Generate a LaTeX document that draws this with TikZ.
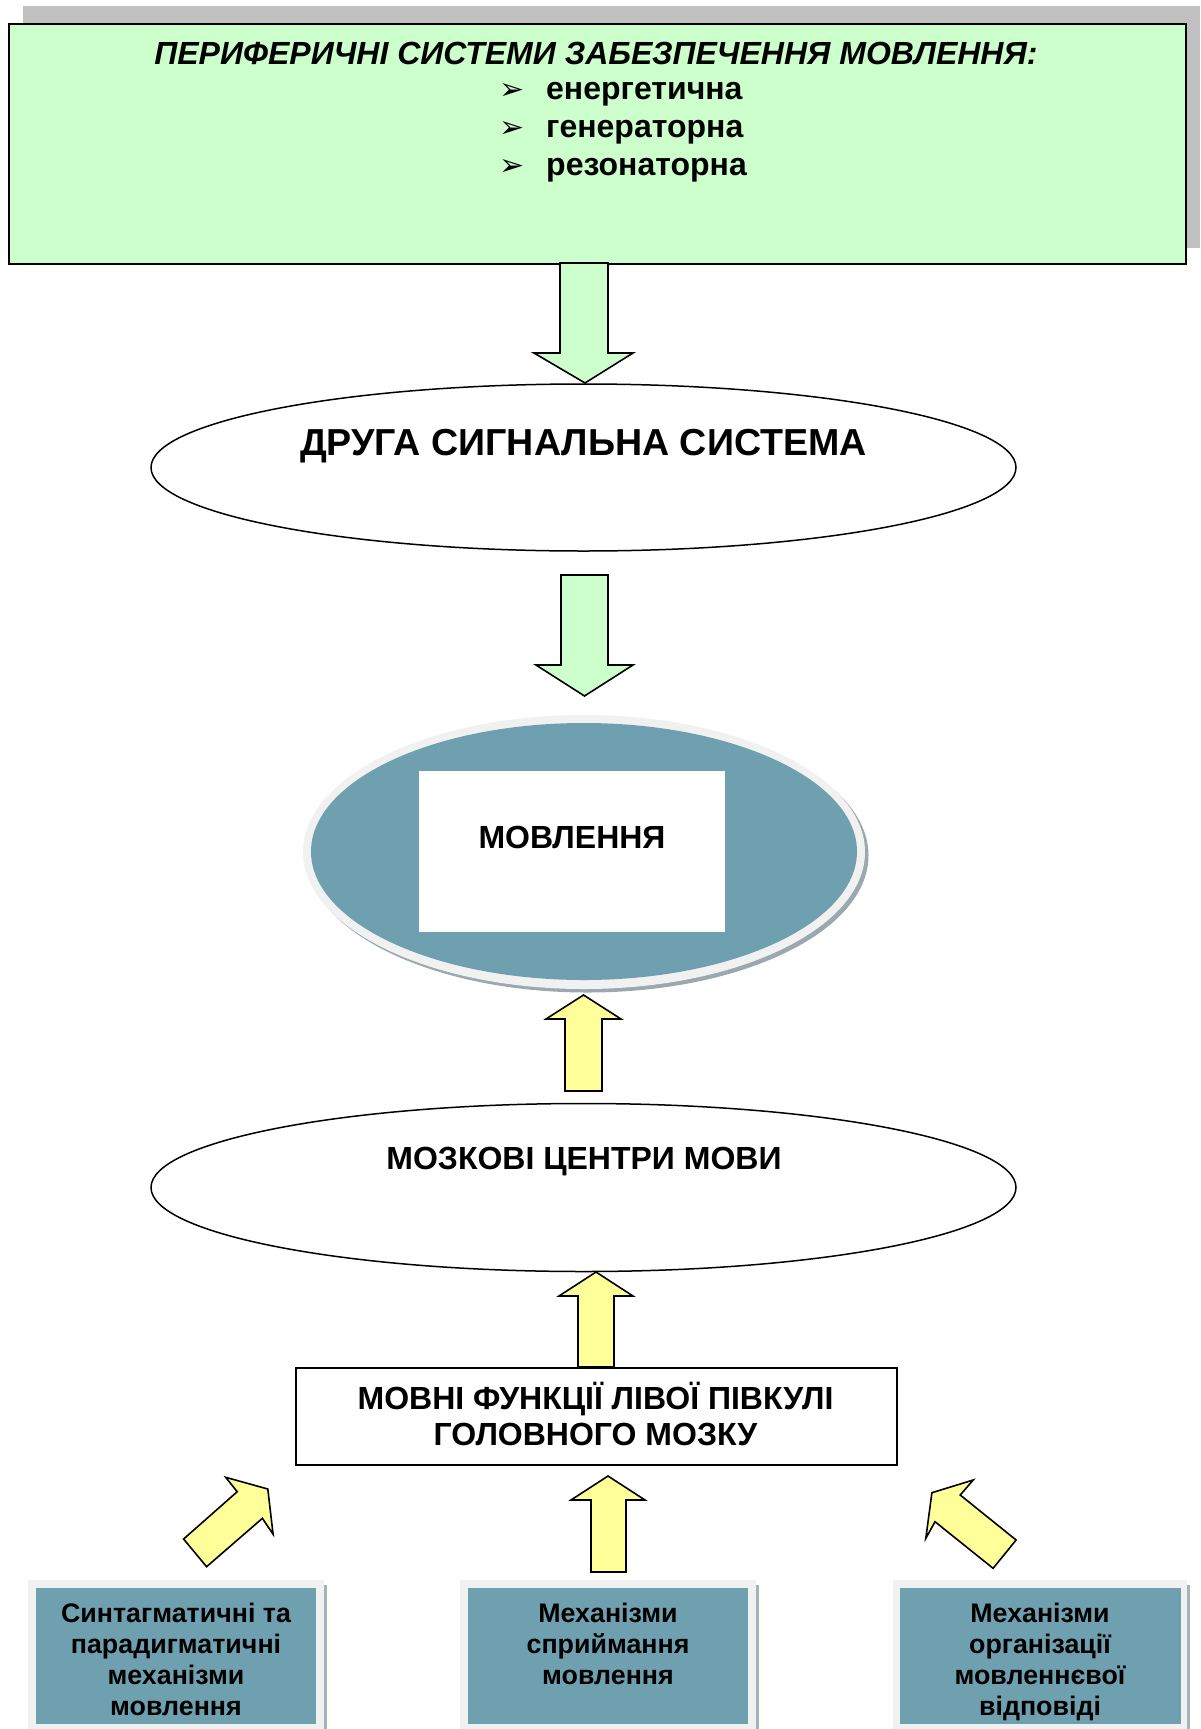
\documentclass[tikz,border=0pt]{standalone}
\usepackage{fontspec}
\setmainfont{Liberation Sans}
\newfontfamily\dejavu{DejaVu Sans}
\usetikzlibrary{shapes.geometric}
\definecolor{pgreen}{HTML}{CCFFCC}
\definecolor{pyellow}{HTML}{FFFF99}
\definecolor{pteal}{HTML}{6FA0B0}
\definecolor{pshadow}{HTML}{C0C0C0}
\definecolor{prim}{HTML}{F1F1F1}
\definecolor{pellshadow}{HTML}{9AA8B0}
\definecolor{pboxshadow}{HTML}{A8B2BA}
\tikzset{
  bigtxt/.style={anchor=base, inner sep=0pt, font=\bfseries\fontsize{32}{38}\selectfont},
  hugetxt/.style={anchor=base, inner sep=0pt, font=\bfseries\fontsize{37.6}{43}\selectfont},
  smalltxt/.style={anchor=base, inner sep=0pt, font=\bfseries\fontsize{26.8}{31}\selectfont},
  bullettxt/.style={anchor=base west, inner sep=0pt, font=\dejavu\fontsize{30}{34}\selectfont},
  garrow/.style={fill=pgreen, draw=black, line width=1.6pt, line join=miter},
  yarrow/.style={fill=pyellow, draw=black, line width=1.6pt, line join=miter},
  plainell/.style={ellipse, draw=black, line width=1.5pt, fill=white, inner sep=0pt},
}
\begin{document}
\begin{tikzpicture}[x=1pt,y=-1pt]
\useasboundingbox (0,0) rectangle (1200,1729);
\fill[white] (0,0) rectangle (1200,1729);

% top box with shadow
\fill[pshadow] (23,6) rectangle (1200,248);
\node[draw=black, line width=2pt, fill=pgreen, minimum width=1177pt, minimum height=240pt, inner sep=0pt, anchor=north west] (top) at (8,23) {};
\node[bigtxt, font=\bfseries\itshape\fontsize{32}{38}\selectfont] (title) at (596,64) {ПЕРИФЕРИЧНІ СИСТЕМИ ЗАБЕЗПЕЧЕННЯ МОВЛЕННЯ:};
\node[bullettxt] (b1) at (499,99) {➢};
\node[bullettxt] (b2) at (499,137) {➢};
\node[bullettxt] (b3) at (499,175) {➢};
\node[bigtxt, anchor=base west] (l1) at (546,99) {енергетична};
\node[bigtxt, anchor=base west] (l2) at (546,137) {генераторна};
\node[bigtxt, anchor=base west] (l3) at (546,175) {резонаторна};

% arrow 1
\draw[garrow] (560,263) -- (608,263) -- (608,353) -- (633,353) -- (585,383) -- (534,353) -- (560,353) -- cycle;

% ellipse 1
\node[plainell, minimum width=865pt, minimum height=167pt] (e1) at (583.5,467.5) {};
\node[hugetxt] (e1t) at (583.5,455) {ДРУГА СИГНАЛЬНА СИСТЕМА};

% arrow 2
\draw[garrow] (561,575) -- (608,575) -- (608,665) -- (633,665) -- (584.5,696) -- (536,665) -- (561,665) -- cycle;

% ellipse 2 (speech)
\fill[pellshadow] (587.5,855.5) ellipse [x radius=281pt, y radius=137pt];
\node[ellipse, fill=prim, inner sep=0pt, minimum width=562pt, minimum height=274pt] (e2) at (584,852) {};
\fill[pteal] (584,851.5) ellipse [x radius=273pt, y radius=128.5pt];
\node[fill=white, inner sep=0pt, minimum width=306pt, minimum height=161pt, anchor=north west] (speech) at (419,771) {};
\node[bigtxt] (speecht) at (572,848) {МОВЛЕННЯ};

% arrow 3
\draw[yarrow] (565,1091) -- (565,1019) -- (546,1019) -- (583.5,995) -- (621,1019) -- (602,1019) -- (602,1091) -- cycle;

% ellipse 3
\node[plainell, minimum width=865pt, minimum height=168pt] (e3) at (583.5,1187.5) {};
\node[bigtxt] (e3t) at (584,1169) {МОЗКОВІ ЦЕНТРИ МОВИ};

% arrow 4
\draw[yarrow] (578,1367) -- (578,1296) -- (559,1296) -- (596,1272) -- (633,1296) -- (614,1296) -- (614,1367) -- cycle;

% box left hemisphere
\node[draw=black, line width=2pt, fill=white, minimum width=601pt, minimum height=97pt, inner sep=0pt, anchor=north west] (lh) at (295,1367) {};
\node[bigtxt] (lht1) at (595.5,1409) {МОВНІ ФУНКЦІЇ ЛІВОЇ ПІВКУЛІ};
\node[bigtxt] (lht2) at (595.5,1445) {ГОЛОВНОГО МОЗКУ};

% bottom arrows
\draw[yarrow] (225.7,1477.3) -- (267.8,1489) -- (273.1,1534.3) -- (262.4,1518.3) -- (206.6,1566.7) -- (183.6,1539) -- (237.2,1491.7) -- cycle;
\draw[yarrow] (591,1572) -- (591,1500) -- (571,1500) -- (608,1476) -- (645,1500) -- (626,1500) -- (626,1572) -- cycle;
\draw[yarrow] (973.2,1480) -- (960.2,1495) -- (1016.1,1540) -- (993.1,1568.3) -- (935,1521.7) -- (925.8,1538.3) -- (931.9,1492.7) -- cycle;

% bottom boxes
\fill[pboxshadow] (324,1585) rectangle (327,1729);
\fill[prim] (28,1580) rectangle (324,1729);
\node[fill=pteal, inner sep=0pt, minimum width=280pt, minimum height=136pt, anchor=north west] (m1) at (36,1588) {};
\fill[pboxshadow] (756,1585) rectangle (759,1729);
\fill[prim] (460,1580) rectangle (756,1729);
\node[fill=pteal, inner sep=0pt, minimum width=280pt, minimum height=136pt, anchor=north west] (m2) at (468,1588) {};
\fill[pboxshadow] (1187,1585) rectangle (1190,1729);
\fill[prim] (893,1580) rectangle (1187,1729);
\node[fill=pteal, inner sep=0pt, minimum width=281pt, minimum height=136pt, anchor=north west] (m3) at (900,1588) {};

\node[smalltxt] (m1a) at (176,1622) {Синтагматичні та};
\node[smalltxt] (m1b) at (176,1653) {парадигматичні};
\node[smalltxt] (m1c) at (176,1684) {механізми};
\node[smalltxt] (m1d) at (176,1715) {мовлення};

\node[smalltxt] (m2a) at (608,1622) {Механізми};
\node[smalltxt] (m2b) at (608,1653) {сприймання};
\node[smalltxt] (m2c) at (608,1684) {мовлення};

\node[smalltxt] (m3a) at (1040,1622) {Механізми};
\node[smalltxt] (m3b) at (1040,1653) {організації};
\node[smalltxt] (m3c) at (1040,1684) {мовленнєвої};
\node[smalltxt] (m3d) at (1040,1715) {відповіді};
\end{tikzpicture}
\end{document}
